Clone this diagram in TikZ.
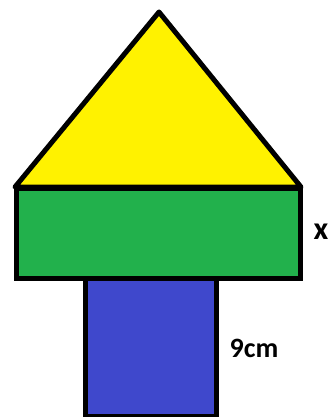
\documentclass[tikz,border=0pt]{standalone}
\usepackage{fontspec}
\setmainfont{Carlito}
\definecolor{paintyellow}{HTML}{FFF200}
\definecolor{paintgreen}{HTML}{22B14C}
\definecolor{paintblue}{HTML}{3F48CC}
\tikzset{
  shapeline/.style={draw=black, line width=5pt, line join=round},
  lbl/.style={font=\fontsize{28}{30}\selectfont\bfseries, inner sep=0pt}
}
\begin{document}
\begin{tikzpicture}[x=1pt,y=-1pt]
\useasboundingbox (0,0) rectangle (331,417);
\fill[white] (0,0) rectangle (331,417);
% blue rectangle
\draw[shapeline, fill=paintblue, line join=miter] (85,278) rectangle (216,416);
% green rectangle
\draw[shapeline, fill=paintgreen, line join=miter] (16,188) rectangle (300,278);
% yellow triangle
\draw[shapeline, fill=paintyellow] (15,187) -- (159,12) -- (301,187) -- cycle;
\node[lbl, font=\fontsize{32}{34}\selectfont\bfseries, anchor=center] (x) at (321,232) {x};
\node[lbl, anchor=base] (h) at (254,357) {9cm};
\end{tikzpicture}
\end{document}
